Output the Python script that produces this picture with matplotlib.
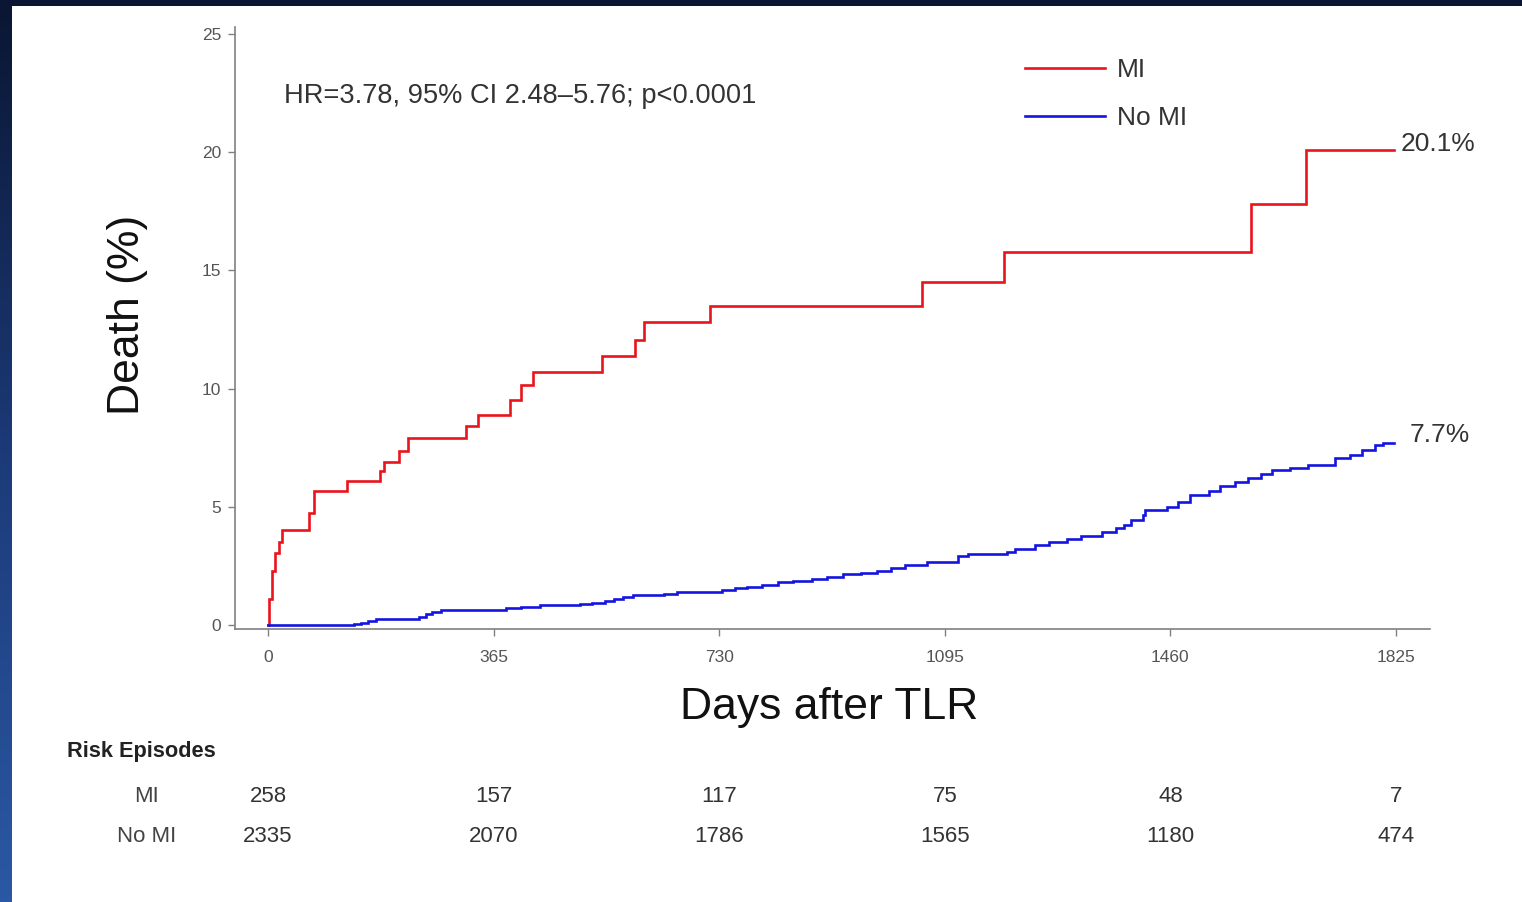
import matplotlib
matplotlib.use("Agg")
import matplotlib.pyplot as plt
import matplotlib.transforms as mtransforms
import numpy as np

plt.rcParams['font.family'] = ['Liberation Sans', 'DejaVu Sans']

# ---- data ----
mi_days = [0, 1, 6, 12, 18, 23, 67, 75, 128, 182, 188, 212, 226, 320, 339, 391, 409, 428,
           540, 593, 609, 715, 1058, 1190, 1590, 1679, 1822]
mi_vals = [0, 1.1, 2.3, 3.05, 3.5, 4.0, 4.75, 5.65, 6.1, 6.5, 6.9, 7.35, 7.9, 8.4, 8.9, 9.5, 10.15, 10.7,
           11.4, 12.05, 12.8, 13.5, 14.5, 15.8, 17.8, 20.1, 20.1]

nomi_days = [0, 139, 150, 162, 175, 245, 255, 266, 280, 385, 410, 440, 505, 525, 545, 560, 575, 590,
             640, 662, 735, 755, 775, 800, 825, 850, 880, 905, 930, 960, 985, 1008, 1030, 1067, 1117, 1132,
             1195, 1209, 1241, 1264, 1293, 1316, 1349, 1372, 1385, 1396, 1415, 1419, 1454, 1473, 1491, 1523,
             1540, 1564, 1585, 1606, 1625, 1654, 1683, 1727, 1751, 1770, 1791, 1804, 1822]
nomi_vals = [0, 0.05, 0.1, 0.18, 0.25, 0.35, 0.45, 0.55, 0.62, 0.7, 0.78, 0.85, 0.9, 0.95, 1.0, 1.1, 1.2, 1.27,
             1.33, 1.41, 1.48, 1.55, 1.62, 1.7, 1.8, 1.87, 1.95, 2.05, 2.15, 2.2, 2.3, 2.4, 2.54, 2.68, 2.9, 3.0,
             3.1, 3.2, 3.39, 3.53, 3.63, 3.77, 3.95, 4.1, 4.24, 4.45, 4.66, 4.87, 5.01, 5.22, 5.5, 5.65,
             5.86, 6.03, 6.2, 6.4, 6.57, 6.65, 6.78, 7.07, 7.2, 7.4, 7.6, 7.7, 7.7]

x_ticks = [0, 365, 730, 1095, 1460, 1825]
y_ticks = [0, 5, 10, 15, 20, 25]
risk_groups = ["MI", "No MI"]
risk_mi = [258, 157, 117, 75, 48, 7]
risk_nomi = [2335, 2070, 1786, 1565, 1180, 474]
end_labels = ["20.1%", "7.7%"]
hr_text = "HR=3.78, 95% CI 2.48\u20135.76; p<0.0001"

RED = '#e8141c'
BLUE = '#1414e0'
W, H = 1522, 902

fig = plt.figure(figsize=(W / 100, H / 100), dpi=100)
fig.patch.set_facecolor('white')

# ---- slide border (top band + left gradient band) ----
bg = fig.add_axes([0, 0, 1, 1], zorder=-10)
bg.set_axis_off()
bg.add_patch(plt.Rectangle((0, 0), W, 6, color='#0a1632', lw=0))
grad = np.linspace(0, 1, 256).reshape(-1, 1)
cmap = matplotlib.colors.LinearSegmentedColormap.from_list('b', ['#0a1632', '#1c3a78', '#2b58a4'])
bg.imshow(grad, extent=[0, 12, H, 0], cmap=cmap, aspect='auto', origin='upper')
bg.set_xlim(0, W)
bg.set_ylim(H, 0)

# ---- main axes ----
ax = fig.add_axes([235 / W, (H - 629) / H, (1430 - 235) / W, (629 - 27) / H])
ax.step(mi_days, mi_vals, where='post', color=RED, lw=1.9, label='MI', solid_joinstyle='miter')
ax.step(nomi_days, nomi_vals, where='post', color=BLUE, lw=1.9, label='No MI', solid_joinstyle='miter')

ax.set_xlim(-53.4, 1880)
ax.set_ylim(-0.17, 25.3)
ax.set_xticks(x_ticks)
ax.set_yticks(y_ticks)
for s in ['top', 'right']:
    ax.spines[s].set_visible(False)
for s in ['left', 'bottom']:
    ax.spines[s].set_color('#808080')
    ax.spines[s].set_linewidth(1.2)
ax.tick_params(axis='both', colors='#808080', labelcolor='#555555', labelsize=12.5, length=5, width=1)
ax.tick_params(axis='y', pad=5)
ax.tick_params(axis='x', pad=10)

ax.set_xlabel('Days after TLR', fontsize=32, color='#111111')
ax.xaxis.set_label_coords(0.497, -78 / 602)
ax.xaxis.label.set_va('center')
ax.set_ylabel('Death (%)', fontsize=32, color='#111111')
ax.yaxis.set_label_coords((127 - 235) / 1195, (629 - 315) / 602)
ax.yaxis.label.set_va('center')

ax.text((284 - 235) / 1195, (629 - 96) / 602, hr_text, transform=ax.transAxes,
        fontsize=19.6, color='#333333', ha='left', va='center')

leg = ax.legend(loc='upper left', bbox_to_anchor=(1025 / W, 1 - 58 / H), bbox_transform=fig.transFigure,
                frameon=False, fontsize=19, handlelength=3.05, handletextpad=0.45, labelspacing=0.92,
                borderpad=0, borderaxespad=0)
for t in leg.get_texts():
    t.set_color('#333333')

ax.annotate(end_labels[0], xy=(mi_days[-1], mi_vals[-1]), xytext=(5, 4), textcoords='offset points',
            fontsize=19, color='#333333', ha='left', va='center')
ax.annotate(end_labels[1], xy=(nomi_days[-1], nomi_vals[-1]), xytext=(11, 6), textcoords='offset points',
            fontsize=19, color='#333333', ha='left', va='center')

# ---- risk table ----
fig.text(67 / W, 1 - 751 / H, 'Risk Episodes', fontsize=15.7, fontweight='bold', color='#222222',
         ha='left', va='center')
tr = mtransforms.blended_transform_factory(ax.transData, fig.transFigure)
for row_y, name, vals in [(796, risk_groups[0], risk_mi), (836, risk_groups[1], risk_nomi)]:
    fig.text(147 / W, 1 - row_y / H, name, fontsize=16, color='#444444', ha='center', va='center')
    for xd, v in zip(x_ticks, vals):
        ax.text(xd, 1 - row_y / H, str(v), transform=tr, fontsize=16, color='#333333',
                ha='center', va='center', clip_on=False)

fig.savefig('out.png', dpi=100)
